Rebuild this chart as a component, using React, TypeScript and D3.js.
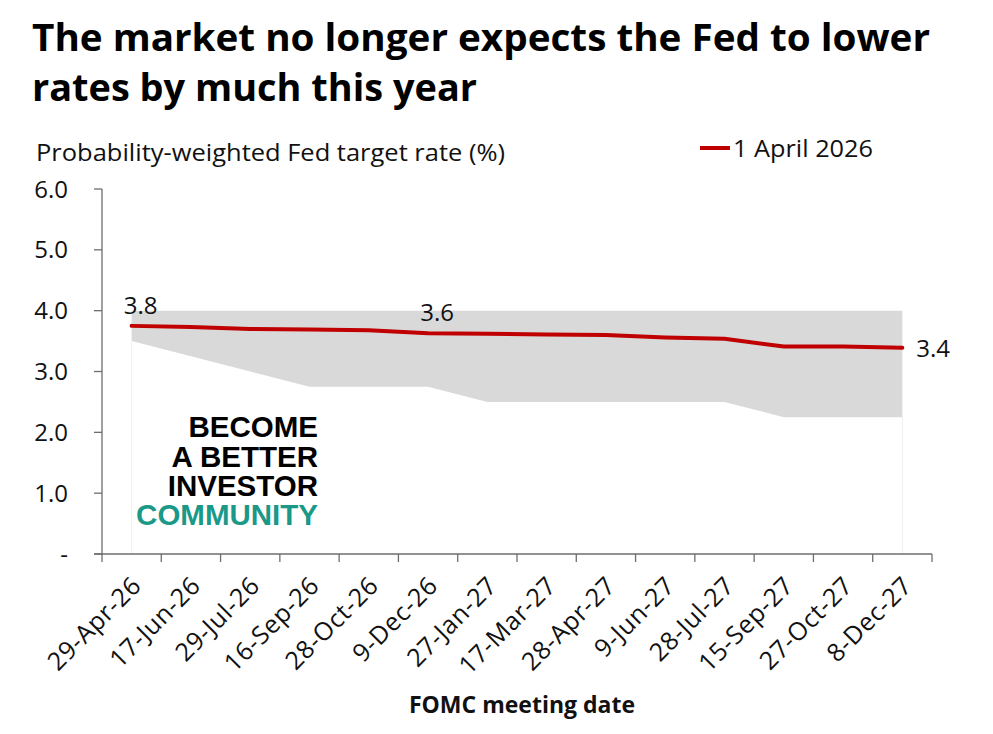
import React from "react";
import * as d3 from "d3";

const dates = [
  "29-Apr-26", "17-Jun-26", "29-Jul-26", "16-Sep-26", "28-Oct-26", "9-Dec-26", "27-Jan-27",
  "17-Mar-27", "28-Apr-27", "9-Jun-27", "28-Jul-27", "15-Sep-27", "27-Oct-27", "8-Dec-27",
];
const rate = [3.75, 3.73, 3.7, 3.69, 3.68, 3.63, 3.62, 3.61, 3.6, 3.56, 3.54, 3.41, 3.41, 3.39];
const rangeHigh = [4.0, 4.0, 4.0, 4.0, 4.0, 4.0, 4.0, 4.0, 4.0, 4.0, 4.0, 4.0, 4.0, 4.0];
const rangeLow = [3.5, 3.25, 3.0, 2.75, 2.75, 2.75, 2.5, 2.5, 2.5, 2.5, 2.5, 2.25, 2.25, 2.25];
const yTicks = [0, 1, 2, 3, 4, 5, 6];
const labelled = [
  { i: 0, text: "3.8", pos: "above" },
  { i: 5, text: "3.6", pos: "above" },
  { i: 13, text: "3.4", pos: "right" },
];

const W = 993;
const H = 734;
const left = 102;
const right = 932;
const top = 189;
const bottom = 554;
const FONT = "'Open Sans', 'Noto Sans', sans-serif";

export default function App() {
  const x = d3.scaleBand<string>().domain(dates).range([left, right]).paddingInner(0).paddingOuter(0);
  const cx = (i: number) => (x(dates[i]) as number) + x.bandwidth() / 2;
  const y = d3.scaleLinear().domain([0, 6]).range([bottom, top]);

  const idx = dates.map((_, i) => i);
  const area = d3
    .area<number>()
    .x((i) => cx(i))
    .y0((i) => y(rangeLow[i]))
    .y1((i) => y(rangeHigh[i]));
  const line = d3
    .line<number>()
    .x((i) => cx(i))
    .y((i) => y(rate[i]));

  const boundaries = d3.range(dates.length + 1).map((k) => left + k * x.step());
  const last = dates.length - 1;

  return (
    <svg width={W} height={H} style={{ position: "absolute", left: 0, top: 0, background: "#fff" }}>
      <rect x={0} y={0} width={W} height={H} fill="#fff" />
      {/* Title */}
      <text x={32} y={51} fontFamily={FONT} fontWeight={700} fontSize={38} fill="#000"
        textLength={898} lengthAdjust="spacingAndGlyphs">
        The market no longer expects the Fed to lower
      </text>
      <text x={32} y={101} fontFamily={FONT} fontWeight={700} fontSize={38} fill="#000"
        textLength={445} lengthAdjust="spacingAndGlyphs">
        rates by much this year
      </text>
      {/* Subtitle */}
      <text x={36} y={161} fontFamily={FONT} fontSize={23.5} fill="#111" textLength={469} lengthAdjust="spacingAndGlyphs">
        Probability-weighted Fed target rate (%)
      </text>
      {/* Legend */}
      <line x1={700} x2={730} y1={148} y2={148} stroke="#c00000" strokeWidth={4} />
      <text x={733} y={157} fontFamily={FONT} fontSize={24} fill="#111" textLength={140} lengthAdjust="spacingAndGlyphs">
        1 April 2026
      </text>

      {/* Faint area edges */}
      <line x1={cx(0)} x2={cx(0)} y1={y(rangeLow[0])} y2={bottom} stroke="#efefef" strokeWidth={1} />
      <line x1={cx(last)} x2={cx(last)} y1={y(rangeLow[last])} y2={bottom} stroke="#efefef" strokeWidth={1} />
      {/* Range band */}
      <path d={area(idx) as string} fill="#d9d9d9" />

      {/* Watermark */}
      <g fontFamily="'Liberation Sans', Arial, sans-serif" fontWeight={700} fontSize={29.5} textAnchor="end">
        <text x={318} y={437} fill="#000">BECOME</text>
        <text x={318} y={467} fill="#000">A BETTER</text>
        <text x={318} y={496} fill="#000">INVESTOR</text>
        <text x={318} y={525} fill="#1a9988">COMMUNITY</text>
      </g>

      {/* Y axis */}
      <line x1={left} x2={left} y1={top} y2={bottom} stroke="#6e6e6e" strokeWidth={1.3} />
      {yTicks.map((t) => (
        <g key={t}>
          <line x1={left - 8} x2={left} y1={y(t)} y2={y(t)} stroke="#6e6e6e" strokeWidth={1.3} />
          <text
            x={68}
            y={y(t)}
            dy="0.36em"
            textAnchor="end"
            fontFamily={FONT}
            fontSize={24}
            fill="#111"
          >
            {t === 0 ? "-" : d3.format(".1f")(t)}
          </text>
        </g>
      ))}

      {/* X axis */}
      <line x1={left - 8} x2={right} y1={bottom} y2={bottom} stroke="#6e6e6e" strokeWidth={1.3} />
      {boundaries.map((b, k) => (
        <line key={k} x1={b} x2={b} y1={bottom} y2={bottom + 8} stroke="#6e6e6e" strokeWidth={1.3} />
      ))}
      {dates.map((d, i) => (
        <text
          key={d}
          transform={`translate(${cx(i) + 5},${bottom + 27}) rotate(-45)`}
          textAnchor="end"
          dy="0.35em"
          fontFamily={FONT}
          fontSize={25}
          letterSpacing={0.6}
          fill="#111"
        >
          {d}
        </text>
      ))}
      <text x={522} y={713} textAnchor="middle" fontFamily={FONT} fontWeight={700} fontSize={23} fill="#111">
        FOMC meeting date
      </text>

      {/* Line */}
      <path d={line(idx) as string} fill="none" stroke="#c00000" strokeWidth={4} strokeLinejoin="round" strokeLinecap="round" />

      {/* Data labels */}
      {labelled.map((l) =>
        l.pos === "above" ? (
          <text
            key={l.i}
            x={cx(l.i) + 9}
            y={y(rate[l.i]) - 12}
            textAnchor="middle"
            fontFamily={FONT}
            fontSize={24}
            fill="#111"
          >
            {l.text}
          </text>
        ) : (
          <text
            key={l.i}
            x={cx(l.i) + 14}
            y={y(rate[l.i]) + 9}
            textAnchor="start"
            fontFamily={FONT}
            fontSize={24}
            fill="#111"
          >
            {l.text}
          </text>
        )
      )}
    </svg>
  );
}
